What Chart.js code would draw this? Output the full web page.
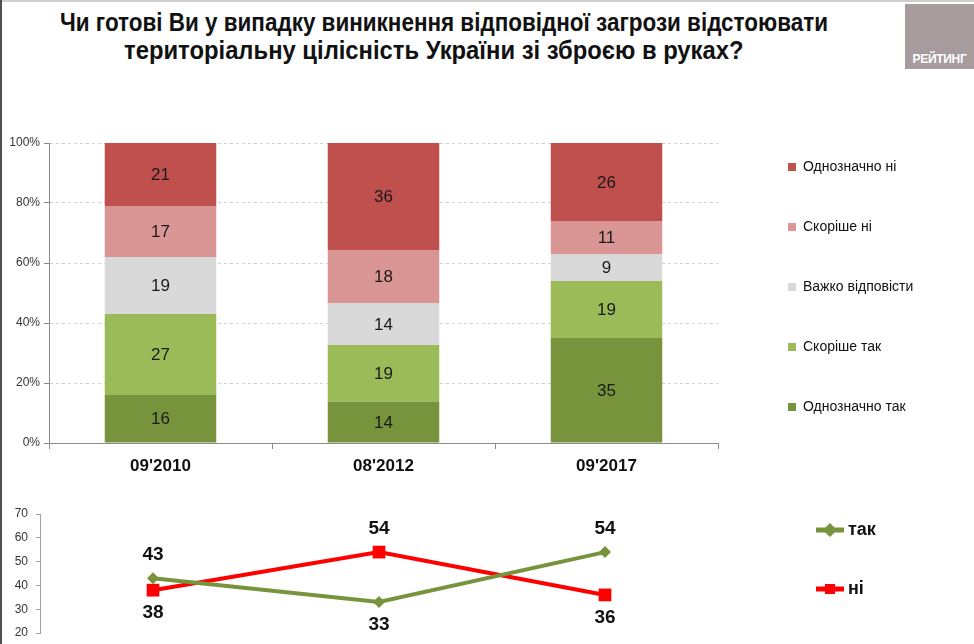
<!DOCTYPE html>
<html>
<head>
<meta charset="utf-8">
<script src="https://cdn.jsdelivr.net/npm/chart.js@4.4.1/dist/chart.umd.min.js"></script>
<style>
  html, body { margin: 0; padding: 0; background: #fff; }
  body { width: 974px; height: 644px; position: relative; overflow: hidden; font-family: 'Liberation Sans', Arial, sans-serif; }
  .edge-top { position: absolute; left: 0; top: 0; width: 974px; height: 2px; background: #cfcfcf; }
  .edge-left { position: absolute; left: 0; top: 0; width: 2px; height: 644px; background: #505050; }
  .ln { position: absolute; left: 0; white-space: nowrap; transform-origin: 0 0;
        font: bold 25px/28px 'Liberation Sans', Arial, sans-serif; color: #111; }
  #t1 { top: 8px; }
  #t2 { top: 36px; }
  .logo { position: absolute; left: 905px; top: 4px; width: 69px; height: 65px; background: #a69c9d; }
  .logo span { position: absolute; left: 0; right: 0; bottom: 3px; text-align: center; color: #fff;
       font: bold 12px 'Liberation Sans', Arial, sans-serif; letter-spacing: -0.3px; }
  canvas { position: absolute; left: 0; }
  #bars { top: 120px; }
  #trend { top: 475px; }
</style>
</head>
<body>
<div class="edge-top"></div>
<div class="edge-left"></div>
<div class="ln" id="t1">Чи готові Ви у випадку виникнення відповідної загрози відстоювати</div>
<div class="ln" id="t2">територіальну цілісність України зі зброєю в руках?</div>
<div class="logo"><span>РЕЙТИНГ</span></div>
<canvas id="bars" width="974" height="400"></canvas>
<canvas id="trend" width="974" height="174"></canvas>
<script>
const periods = ["09'2010", "08'2012", "09'2017"];
const answers = ['Однозначно так', 'Скоріше так', 'Важко відповісти', 'Скоріше ні', 'Однозначно ні'];
const definitelyYes = [16, 14, 35];
const ratherYes = [27, 19, 19];
const hardToSay = [19, 14, 9];
const ratherNo = [17, 18, 11];
const definitelyNo = [21, 36, 26];

const trendNames = ['так', 'ні'];
const yesTotal = [43, 33, 54];
const noTotal = [38, 54, 36];

const answerColors = ['#77933C', '#9BBB59', '#D9D9D9', '#D99694', '#C0504D'];
const trendColors = ['#77933C', '#FF0000'];

const sans = "'Liberation Sans', Arial, sans-serif";

// the title is set in a narrow face on the slide: squeeze each line to the slide's span
function squeeze(id, from, to) {
  const el = document.getElementById(id);
  const k = (to - from) / el.offsetWidth;
  el.style.transform = `translateX(${from}px) scaleX(${k})`;
}
squeeze('t1', 60, 828);
squeeze('t2', 124, 744);

const shares = [definitelyYes, ratherYes, hardToSay, ratherNo, definitelyNo];
// the 2012 column adds up to 101, the bars are scaled to 100%
const totals = periods.map((p, i) => shares.reduce((s, a) => s + a[i], 0));

// put the legend box where it stands in the original slide
function legendAt(x, y) {
  return {
    id: 'legendAt',
    afterLayout(chart) {
      const lg = chart.legend;
      lg.left = x;
      lg.top = y;
      lg.right = chart.width;
      lg.bottom = chart.height;
      lg.width = lg.right - lg.left;
      lg.height = lg.bottom - lg.top;
    }
  };
}

const barValues = {
  id: 'barValues',
  afterDatasetsDraw(chart) {
    const ctx = chart.ctx;
    ctx.save();
    ctx.font = '17px ' + sans;
    ctx.fillStyle = '#1a1a1a';
    ctx.textAlign = 'center';
    ctx.textBaseline = 'middle';
    shares.forEach((vals, k) => {
      chart.getDatasetMeta(k).data.forEach((bar, i) => {
        ctx.fillText(vals[i], bar.x, (bar.y + bar.base) / 2 + 1);
      });
    });
    ctx.restore();
  }
};

new Chart(document.getElementById('bars'), {
  type: 'bar',
  data: {
    labels: periods,
    datasets: shares.map((vals, k) => ({
      label: answers[k],
      data: vals.map((v, i) => v / totals[i] * 100),
      backgroundColor: answerColors[k],
      barPercentage: 1,
      categoryPercentage: 0.5
    }))
  },
  options: {
    responsive: false,
    animation: false,
    layout: { padding: { top: 23, right: 196, left: 0, bottom: 0 } },
    scales: {
      x: {
        stacked: true,
        grid: { drawOnChartArea: false, tickLength: 6, color: '#8a8a8a' },
        border: { color: '#8a8a8a' },
        ticks: { color: '#111', padding: 7, font: { family: sans, size: 17, weight: 'bold' } },
        afterFit: s => { s.height = 77; }
      },
      y: {
        stacked: true,
        min: 0,
        max: 100,
        ticks: { stepSize: 20, callback: v => v + '%', color: '#333', padding: 4, font: { family: sans, size: 12 } },
        grid: { color: '#d2d2d2', tickColor: '#8a8a8a', tickLength: 5 },
        border: { color: '#8a8a8a', dash: [3, 3] },
        afterFit: s => { s.width = 49; }
      }
    },
    plugins: {
      legend: {
        position: 'right',
        align: 'start',
        reverse: true,
        maxWidth: 60,
        labels: { boxWidth: 8, boxHeight: 8, padding: 46, color: '#111', font: { family: sans, size: 14 } }
      },
      tooltip: { enabled: false }
    }
  },
  plugins: [legendAt(742, -6), barValues]
});

// the legend of the small chart shows a stroke through the marker
const legendStrokes = {
  id: 'legendStrokes',
  beforeDraw(chart) {
    const ctx = chart.ctx;
    const boxes = chart.legend.legendHitBoxes || [];
    ctx.save();
    ctx.lineWidth = 5;
    boxes.forEach((hb, k) => {
      const cx = hb.left + 9, cy = hb.top + 9;
      ctx.strokeStyle = trendColors[k];
      ctx.beginPath();
      ctx.moveTo(cx - 14, cy);
      ctx.lineTo(cx + 14, cy);
      ctx.stroke();
    });
    ctx.restore();
  }
};

const pointValues = {
  id: 'pointValues',
  afterDatasetsDraw(chart) {
    const ctx = chart.ctx;
    const series = [yesTotal, noTotal];
    ctx.save();
    ctx.font = 'bold 19px ' + sans;
    ctx.fillStyle = '#111';
    ctx.textAlign = 'center';
    ctx.textBaseline = 'middle';
    series.forEach((vals, k) => {
      const other = series[1 - k];
      chart.getDatasetMeta(k).data.forEach((pt, i) => {
        const above = vals[i] >= other[i];
        ctx.fillText(vals[i], pt.x, pt.y + (above ? -23 : 23));
      });
    });
    ctx.restore();
  }
};

new Chart(document.getElementById('trend'), {
  type: 'line',
  data: {
    labels: periods,
    datasets: [
      {
        label: trendNames[0], data: yesTotal,
        borderColor: trendColors[0], backgroundColor: trendColors[0], borderWidth: 4,
        pointStyle: 'rectRot', pointRadius: 6, pointBorderWidth: 0
      },
      {
        label: trendNames[1], data: noTotal,
        borderColor: trendColors[1], backgroundColor: trendColors[1], borderWidth: 4,
        pointStyle: 'rect', pointRadius: 9, pointBorderWidth: 0
      }
    ]
  },
  options: {
    responsive: false,
    animation: false,
    layout: { padding: { top: 0, right: 196, left: 0, bottom: 0 } },
    scales: {
      x: {
        offset: true,
        grid: { display: false },
        ticks: { display: false },
        border: { display: false },
        afterFit: s => { s.height = 16; }
      },
      top: {
        type: 'category',
        position: 'top',
        grid: { display: false },
        ticks: { display: false },
        border: { display: false },
        afterFit: s => { s.height = 39; }
      },
      y: {
        min: 20,
        max: 70,
        ticks: { stepSize: 10, color: '#333', padding: 8, font: { family: sans, size: 12 } },
        grid: { drawOnChartArea: false, tickColor: '#a0a0a0', tickLength: 4 },
        border: { color: '#a0a0a0' },
        afterFit: s => { s.width = 40; }
      }
    },
    plugins: {
      legend: {
        position: 'right',
        align: 'start',
        maxWidth: 60,
        labels: {
          usePointStyle: true, boxWidth: 18, boxHeight: 10, padding: 41, color: '#111',
          font: { family: sans, size: 18, weight: 'bold' }
        }
      },
      tooltip: { enabled: false }
    }
  },
  plugins: [legendAt(780, 5), legendStrokes, pointValues]
});
</script>
</body>
</html>
